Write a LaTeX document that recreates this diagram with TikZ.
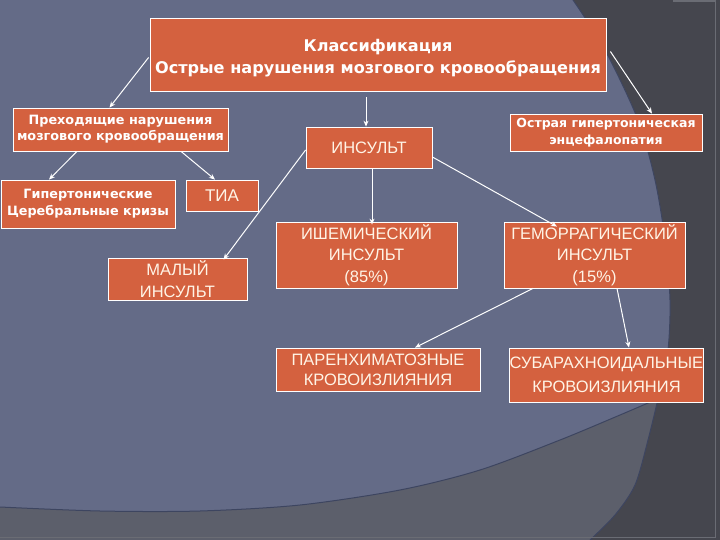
\documentclass[tikz,border=0pt]{standalone}
\usepackage{fontspec}
\setmainfont{Liberation Sans}
\newfontfamily\hdfont{DejaVu Sans}
\usetikzlibrary{arrows.meta}
\definecolor{bgdark}{HTML}{45464E}
\definecolor{bgmid}{HTML}{5C5F6B}
\definecolor{bgblue}{HTML}{646B87}
\definecolor{edgeblue}{HTML}{3D4560}
\definecolor{boxfill}{HTML}{D4613F}
\definecolor{txtcream}{HTML}{FFF4E6}
\definecolor{framegray}{HTML}{6A6C74}
\tikzset{
  box/.style={draw=white, line width=0.8pt, fill=boxfill, inner sep=0pt, align=center, text=txtcream},
  boldtxt/.style={font=\hdfont\bfseries, text=white},
  conn/.style={draw=white, line width=1pt, -{Stealth[length=6pt,width=5pt]}}
}
\begin{document}
\begin{tikzpicture}[x=1pt,y=-1pt]
\useasboundingbox (0,0) rectangle (720,540);
% background
\fill[bgdark] (0,0) rectangle (720,540);
\fill[bgmid] (0,0) -- plot[smooth] coordinates {(573,0) (605,50) (638,120) (655,180) (665,240) (670,300) (668,350) (660,390) (648,440) (635,485) (615,515) (590,540)} -- (0,540) -- cycle;
\fill[bgblue] (0,0) -- plot[smooth] coordinates {(573,0) (605,50) (638,120) (655,180) (665,240) (670,300) (668,350) (662,385) (655,400)} -- plot[smooth] coordinates {(655,400) (620,415) (560,440) (480,470) (400,490) (300,505) (200,511) (100,511) (0,507)} -- cycle;
\draw[edgeblue, line width=1pt] plot[smooth] coordinates {(573,0) (605,50) (638,120) (655,180) (665,240) (670,300) (668,350) (660,390) (648,440) (635,485) (615,515) (590,540)};
\draw[edgeblue, line width=1pt] plot[smooth] coordinates {(655,400) (620,415) (560,440) (480,470) (400,490) (300,505) (200,511) (100,511) (0,507)};
\draw[framegray, line width=1.5pt] (673,1) -- (715.5,1) -- (715.5,537.5) -- (0,537.5);

% nodes
\node[box, boldtxt, minimum width=456pt, minimum height=73pt, font=\hdfont\bfseries\fontsize{16.1}{22}\selectfont] (top) at (378,54.5) {\rule{0pt}{19pt}Классификация\\Острые нарушения мозгового кровообращения};
\node[box, boldtxt, minimum width=215pt, minimum height=43pt, font=\hdfont\bfseries\fontsize{12.8}{16}\selectfont] (preh) at (120.5,129.5) {Преходящие нарушения\\мозгового кровообращения};
\node[box, boldtxt, minimum width=192pt, minimum height=37pt, font=\hdfont\bfseries\fontsize{12.5}{17}\selectfont] (ostr) at (606,132.5) {Острая гипертоническая\\энцефалопатия};
\node[box, minimum width=126pt, minimum height=41pt, font=\fontsize{16.5}{20}\selectfont] (ins) at (369,147.5) {ИНСУЛЬТ};
\node[box, boldtxt, minimum width=174pt, minimum height=48pt, font=\hdfont\bfseries\fontsize{12.8}{17}\selectfont] (gip) at (88,204) {Гипертонические\\Церебральные кризы};
\node[box, minimum width=72pt, minimum height=31pt, font=\fontsize{17}{20}\selectfont] (tia) at (222,195.5) {ТИА};
\node[box, minimum width=139pt, minimum height=42pt, font=\fontsize{16.5}{22}\selectfont] (maly) at (177.5,279) {МАЛЫЙ\\ИНСУЛЬТ};
\node[box, minimum width=181pt, minimum height=66pt, font=\fontsize{16.5}{21.5}\selectfont] (ish) at (366.5,255) {ИШЕМИЧЕСКИЙ\\ИНСУЛЬТ\\(85\%)};
\node[box, minimum width=181pt, minimum height=66pt, font=\fontsize{16.5}{21.5}\selectfont] (gem) at (594.5,255) {ГЕМОРРАГИЧЕСКИЙ\\ИНСУЛЬТ\\(15\%)};
\node[box, minimum width=204pt, minimum height=43pt, font=\fontsize{16.5}{20}\selectfont] (par) at (378,369.5) {ПАРЕНХИМАТОЗНЫЕ\\КРОВОИЗЛИЯНИЯ};
\node[box, minimum width=193pt, minimum height=54pt, font=\fontsize{16.5}{24}\selectfont] (sub) at (606.5,375) {СУБАРАХНОИДАЛЬНЫЕ\\КРОВОИЗЛИЯНИЯ};

% connectors
\draw[conn] ([xshift=-1pt,yshift=-3pt]top.west) -- ([xshift=-11pt]preh.north);
\draw[conn] ([xshift=-12pt,yshift=-6pt]top.south) -- ([xshift=-3pt]ins.north);
\draw[conn] ([xshift=4pt,yshift=3pt]top.east) -- ([xshift=46pt]ostr.north);
\draw[conn] ([xshift=-43.5pt]preh.south) -- ([xshift=-39pt]gip.north);
\draw[conn] ([xshift=60.5pt]preh.south) -- ([xshift=-7pt]tia.north);
\draw[conn] ([yshift=-2.5pt]ins.west) -- ([xshift=46pt,yshift=-2pt]maly.north);
\draw[conn] ([xshift=3pt]ins.south) -- ([xshift=5.5pt,yshift=-3pt]ish.north);
\draw[conn] ([yshift=-9.5pt]ins.east) -- ([xshift=-37.5pt,yshift=-5pt]gem.north);
\draw[conn] ([xshift=-61.5pt]gem.south) -- ([xshift=37pt]par.north);
\draw[conn] ([xshift=22.5pt]gem.south) -- ([xshift=22.5pt]sub.north);
\end{tikzpicture}
\end{document}
